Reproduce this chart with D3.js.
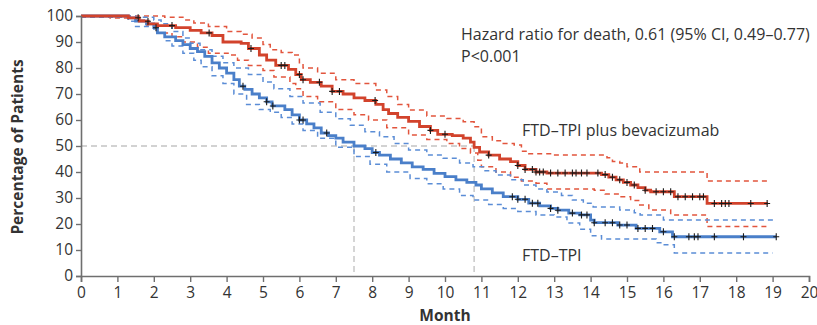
<!DOCTYPE html>
<html>
<head>
<meta charset="utf-8">
<script src="https://cdn.jsdelivr.net/npm/d3@7/dist/d3.min.js"></script>
<style>
  html, body { margin: 0; padding: 0; background: #fff; }
  svg text { font-family: "Open Sans", "Noto Sans", sans-serif; fill: #333; }
</style>
</head>
<body>
<svg id="chart" width="817" height="325"></svg>
<script>
// Kaplan–Meier overall survival, two treatment arms.
const monthTicks = d3.range(0, 21);
const percentTicks = d3.range(0, 101, 10);

// [month, percent alive] at each step of the curves
const comboSurvival = [[0,100],[1.3,99.3],[1.6,98],[1.85,97],[2.1,96.3],[2.6,95.5],[3.0,94.5],[3.3,93.5],[3.6,92.5],[3.9,90],[4.4,89.5],[4.6,87.5],[4.9,85],[5.1,83],[5.35,81],[5.7,79.5],[5.9,77.5],[6.05,75.5],[6.3,74.5],[6.6,73],[6.9,71],[7.2,70],[7.5,68.5],[7.8,67.5],[8.1,66],[8.3,64],[8.45,62.5],[8.7,61],[9.0,59.5],[9.3,57.5],[9.6,56],[9.8,54.5],[10.2,54],[10.5,53],[10.7,51.5],[10.8,49.5],[10.95,47.7],[11.2,46.5],[11.5,45],[11.8,44],[12.0,42.5],[12.2,41],[12.5,40],[12.8,39.6],[14.3,39],[14.5,38],[14.7,37],[14.9,36],[15.1,35],[15.3,34],[15.5,33],[15.65,32.4],[16.3,30.5],[17.2,27.9],[18.87,27.9]];
const monoSurvival = [[0,100],[1.3,99.3],[1.5,98],[1.8,97],[2.0,95.5],[2.1,93.5],[2.3,92],[2.6,90.5],[2.8,89],[3.0,87.5],[3.2,86.3],[3.4,84.5],[3.6,82],[3.8,80],[4.0,78],[4.2,75.5],[4.35,73],[4.5,71.8],[4.7,70],[4.9,68.5],[5.1,67],[5.25,65.4],[5.6,64],[5.8,62],[6.0,60],[6.2,58.5],[6.4,57],[6.6,55],[6.8,54],[7.0,53],[7.2,51.5],[7.5,50],[7.8,49],[8.0,47.5],[8.2,46.5],[8.5,45],[8.8,43.5],[9.1,42],[9.4,41],[9.7,39.5],[10.0,38.2],[10.3,37],[10.6,36],[10.85,35],[11.0,33.5],[11.3,32],[11.6,30.5],[12.0,29.5],[12.3,28],[12.6,27],[12.9,26],[13.1,25.3],[13.4,24.2],[13.7,23.5],[14.0,21.5],[14.1,20.5],[14.75,19.6],[15.25,18.3],[15.9,17],[16.25,15.1],[19.1,15.1]];

// 95% confidence bands
const comboUpper = [[0,100],[1.8,100],[2.3,99.5],[2.8,98.5],[3.1,97.3],[3.5,96],[4.0,94],[4.4,93],[4.7,91.5],[5.0,89],[5.2,87],[5.5,86],[5.8,85],[6.0,82],[6.1,80],[6.5,78],[7.0,75.5],[7.5,74],[8.1,71.5],[8.4,69],[8.7,66],[9.0,63.8],[9.5,61.5],[10.05,60.6],[10.5,59.3],[10.8,57.4],[11.0,53.6],[11.3,52],[11.6,51],[11.9,50.4],[12.1,48],[12.3,47],[12.9,46.5],[14.45,45.5],[14.6,44],[14.8,43.5],[15.0,42],[15.35,40],[17.2,36.5],[18.9,36.5]];
const comboLower = [[0,100],[0.8,99.2],[1.5,98.5],[1.8,96.5],[2.1,93.5],[2.5,92],[2.8,90],[3.2,88],[3.5,85.7],[4.1,85],[4.3,83],[4.6,81],[5.0,79],[5.3,76.5],[5.74,74],[5.9,72],[6.1,69],[6.5,67],[7.0,64],[7.5,62],[7.9,60],[8.4,57],[9.0,54.2],[9.5,52.5],[10.05,51],[10.4,49],[10.7,47.3],[10.9,44.5],[11.0,42],[11.4,40],[11.8,38],[12.1,36.5],[12.5,35.7],[12.8,33.5],[14.1,33],[14.4,31.5],[14.8,30.5],[15.1,29],[15.35,27.3],[15.6,25.4],[16.2,23.5],[17.2,19],[18.9,19]];
const monoUpper = [[0,100],[1.5,99.5],[2.0,98.5],[2.2,97],[2.5,94],[2.8,91.5],[3.0,89.5],[3.27,87],[3.6,84.5],[3.9,82],[4.2,80],[4.6,77.5],[5.0,74.6],[5.3,72],[5.74,69],[6.1,66.5],[6.57,63],[7.0,60.5],[7.4,58],[7.8,55.5],[8.2,53.6],[8.6,51],[9.0,48.5],[9.5,46.5],[9.95,45.3],[10.4,43.5],[10.77,42],[11.1,40.5],[11.4,38.8],[11.8,37],[12.15,35],[12.5,33.5],[12.8,32.3],[13.2,31],[13.5,29.2],[13.8,28],[14.07,26.5],[14.8,25.4],[15.2,24.3],[15.36,23.5],[16.0,21.5],[19.1,21.5]];
const monoLower = [[0,99.5],[1.3,98],[1.5,96],[2.0,95],[2.08,93.5],[2.3,90.5],[2.5,88.5],[2.8,85.7],[3.1,83],[3.3,80.5],[3.6,77],[3.9,74],[4.2,70],[4.55,66],[4.9,64],[5.2,63],[5.5,61],[5.8,58.5],[6.1,56],[6.5,53],[7.0,49.5],[7.5,46],[7.94,43],[8.4,40],[9.04,37.5],[9.5,35.5],[9.95,33.5],[10.4,31],[10.77,29.2],[11.2,27.5],[11.6,26],[12.0,24.8],[12.5,23.5],[13.0,22.7],[13.35,20.4],[13.7,18],[14.0,15.5],[14.3,14.2],[15.8,12.8],[16.0,12],[16.3,8.8],[19.0,8.8]];

// censoring times (months)
const comboCensored = [1.57,1.84,2.5,3.52,4.67,5.5,5.6,6.0,6.1,6.55,6.9,7.1,8.08,9.6,10.0,11.2,12.0,12.2,12.4,12.5,12.6,12.7,12.9,13.1,13.3,13.5,13.6,13.75,13.9,14.2,14.4,14.6,14.8,15.0,15.2,15.5,15.8,16.0,16.2,16.4,16.6,16.8,17.0,17.1,17.4,17.6,17.7,17.8,18.4,18.85];
const monoCensored = [2.06,4.45,5.1,5.27,6.0,6.1,6.75,8.1,11.85,12.0,12.2,12.4,12.55,12.9,13.1,13.5,13.75,13.9,14.1,14.4,14.6,14.8,15.0,15.3,15.5,15.7,16.0,16.3,16.7,16.85,16.95,17.4,18.2,19.1];

const medianMonths = [7.5, 10.8];
const medianLevel = 50;

const svg = d3.select("#chart");
const x = d3.scaleLinear().domain([0, 20]).range([81, 809]);
const y = d3.scaleLinear().domain([0, 100]).range([276, 16]);

const red = "#d2432c", blue = "#4a7fc9";
const redCI = "#e2553d", blueCI = "#5b8dd6";
const axisColor = "#6f6f6f";
const labelSize = "15.5px";
const noteSize = "16px";

// median reference lines
const g = svg.append("g");
g.append("line")
  .attr("x1", x(0)).attr("x2", x(medianMonths[1]))
  .attr("y1", y(medianLevel)).attr("y2", y(medianLevel))
  .attr("stroke", "#c4c4c4").attr("stroke-width", 1.4).attr("stroke-dasharray", "6,4");
medianMonths.forEach(m => {
  g.append("line")
    .attr("x1", x(m)).attr("x2", x(m))
    .attr("y1", y(medianLevel)).attr("y2", y(0))
    .attr("stroke", "#c4c4c4").attr("stroke-width", 1.4).attr("stroke-dasharray", "6,4");
});

const step = d3.line().x(d => x(d[0])).y(d => y(d[1])).curve(d3.curveStepAfter);

[[comboUpper, redCI], [comboLower, redCI], [monoUpper, blueCI], [monoLower, blueCI]].forEach(([data, c]) => {
  g.append("path").datum(data)
    .attr("d", step).attr("fill", "none")
    .attr("stroke", c).attr("stroke-width", 1.5).attr("stroke-dasharray", "5,4");
});

[[monoSurvival, blue], [comboSurvival, red]].forEach(([data, c]) => {
  g.append("path").datum(data)
    .attr("d", step).attr("fill", "none")
    .attr("stroke", c).attr("stroke-width", 2.8);
});

// censor ticks placed on their curve
function valueAt(curve, t) {
  let v = curve[0][1];
  for (const [m, p] of curve) { if (m <= t) v = p; else break; }
  return v;
}
function drawCensors(times, curve) {
  times.forEach(t => {
    const cx = x(t), cy = y(valueAt(curve, t));
    g.append("path")
      .attr("d", `M${cx - 3},${cy}H${cx + 3}M${cx},${cy - 3.5}V${cy + 3.5}`)
      .attr("stroke", "#1a1a1a").attr("stroke-width", 1.1).attr("fill", "none");
  });
}
drawCensors(comboCensored, comboSurvival);
drawCensors(monoCensored, monoSurvival);

// axes
const xAxis = svg.append("g").attr("transform", `translate(0,${y(0)})`)
  .call(d3.axisBottom(x).tickValues(monthTicks).tickSize(6).tickPadding(5).tickFormat(d3.format("d")));
const yAxis = svg.append("g").attr("transform", `translate(${x(0)},0)`)
  .call(d3.axisLeft(y).tickValues(percentTicks).tickSize(5).tickPadding(3).tickFormat(d3.format("d")));
[xAxis, yAxis].forEach(a => {
  a.select(".domain").attr("stroke", axisColor).attr("stroke-width", 1.6);
  a.selectAll(".tick line").attr("stroke", axisColor).attr("stroke-width", 1.4);
  a.selectAll(".tick text").attr("fill", "#333").style("font-size", "15.5px")
    .style("font-family", "'Open Sans', sans-serif");
});

// axis titles
svg.append("text").attr("x", 445).attr("y", 321).attr("text-anchor", "middle")
  .style("font-size", labelSize).style("font-weight", "bold").text("Month");
svg.append("text").attr("transform", "translate(23,147) rotate(-90)").attr("text-anchor", "middle")
  .style("font-size", labelSize).style("font-weight", "bold").text("Percentage of Patients");

// annotations
svg.append("text").attr("x", 461).attr("y", 40).style("font-size", noteSize)
  .text("Hazard ratio for death, 0.61 (95% CI, 0.49–0.77)");
svg.append("text").attr("x", 461).attr("y", 62).style("font-size", noteSize).text("P<0.001");
svg.append("text").attr("x", 522).attr("y", 136).style("font-size", noteSize).text("FTD–TPI plus bevacizumab");
svg.append("text").attr("x", 522).attr("y", 261).style("font-size", noteSize).text("FTD–TPI");
</script>
</body>
</html>
